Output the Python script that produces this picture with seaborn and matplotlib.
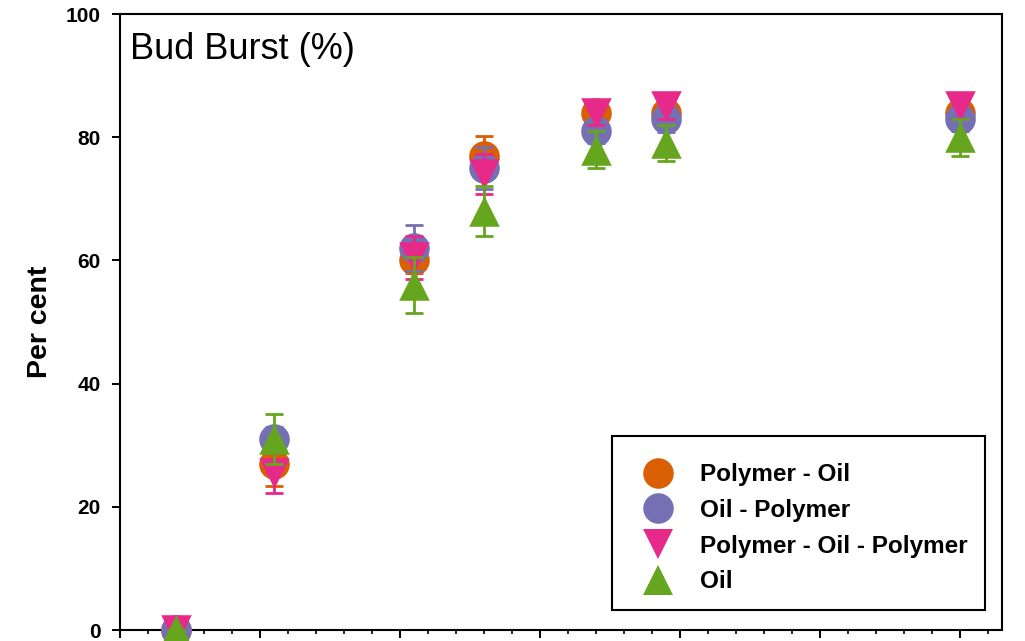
import matplotlib
matplotlib.use("Agg")
import matplotlib.pyplot as plt
import seaborn as sns
import pandas as pd
from matplotlib.ticker import MultipleLocator
from matplotlib.patches import Rectangle

# ---- data ----
days = [4, 11, 21, 26, 34, 39, 60]
series_names = ["Polymer - Oil", "Oil - Polymer", "Polymer - Oil - Polymer", "Oil"]
poly_oil = [0, 27, 60, 77, 84, 84, 84]
poly_oil_err = [0, 3.6, 2.0, 3.2, 1.5, 2.0, 1.5]
oil_poly = [0, 31, 62, 75, 81, 83, 83]
oil_poly_err = [0, 2.0, 3.7, 3.4, 2.0, 2.2, 2.0]
poly_oil_poly = [0, 25.5, 60.5, 74, 84, 85, 85]
poly_oil_poly_err = [0, 3.3, 3.5, 3.3, 2.0, 2.0, 2.1]
oil = [0, 31, 56, 68, 78, 79, 80]
oil_err = [0, 4.1, 4.6, 4.1, 3.0, 2.9, 3.0]

colors = ["#d95f02", "#7570b3", "#e7298a", "#66a61e"]
markers = ["o", "o", "v", "^"]
msizes = [22, 22, 22, 22]

sns.set_theme(style="ticks")
plt.rcParams["font.family"] = ["Liberation Sans", "DejaVu Sans"]
plt.rcParams["text.color"] = "black"
plt.rcParams["axes.labelcolor"] = "black"
plt.rcParams["xtick.color"] = "black"
plt.rcParams["ytick.color"] = "black"

fig = plt.figure(figsize=(10.25, 6.41), dpi=100)
ax = fig.add_axes([120 / 1025, 11 / 641, 882 / 1025, 616 / 641])

vals = [poly_oil, oil_poly, poly_oil_poly, oil]
errs = [poly_oil_err, oil_poly_err, poly_oil_poly_err, oil_err]

frames = []
for name, v, e in zip(series_names, vals, errs):
    frames.append(pd.DataFrame({"day": days, "pct": v, "err": e, "series": name}))
df = pd.concat(frames, ignore_index=True)

handles = []
for i, name in enumerate(series_names):
    sub = df[df["series"] == name]
    ax.errorbar(sub["day"], sub["pct"], yerr=sub["err"], fmt="none",
                ecolor=colors[i], elinewidth=2.0, capsize=6.5, capthick=2.0,
                zorder=3 + 2 * i, clip_on=False)
    sns.scatterplot(data=sub, x="day", y="pct", ax=ax, color=colors[i],
                    marker=markers[i], s=msizes[i] ** 2, linewidth=0,
                    zorder=4 + 2 * i, clip_on=False, legend=False)
    h, = ax.plot([], [], linestyle="none", marker=markers[i], color=colors[i],
                 markersize=msizes[i], markeredgewidth=0, label=name)
    handles.append(h)

ax.set_xlim(0, 63)
ax.set_ylim(0, 100)
ax.xaxis.set_major_locator(MultipleLocator(10))
ax.xaxis.set_minor_locator(MultipleLocator(2))
ax.yaxis.set_major_locator(MultipleLocator(20))
ax.tick_params(axis="x", which="major", direction="out", length=6, width=1.4, labelbottom=False)
ax.tick_params(axis="x", which="minor", direction="out", length=3, width=1.2)
ax.tick_params(axis="y", which="major", direction="out", length=6, width=1.4, pad=8,
               labelsize=15)
for lab in ax.get_yticklabels():
    lab.set_fontweight("bold")
for sp in ax.spines.values():
    sp.set_visible(True)
    sp.set_linewidth(1.5)
    sp.set_color("black")
ax.set_xlabel("")
ax.set_ylabel("Per cent", fontsize=20.5, fontweight="bold", labelpad=9)

ax.text(0.0115, 0.942, "Bud Burst (%)", transform=ax.transAxes, fontsize=26,
        ha="left", va="center")

# legend box
x0, x1 = (612 - 120) / 882, (985 - 120) / 882
y0, y1 = (630 - 610) / 616, (630 - 436) / 616
ax.add_patch(Rectangle((x0, y0), x1 - x0, y1 - y0, transform=ax.transAxes,
                       fill=True, facecolor="white", edgecolor="black",
                       linewidth=1.5, zorder=20))
leg = ax.legend(handles=handles, loc="upper left",
                bbox_to_anchor=(x0 + 3 / 882, y1 - 3 / 616), borderaxespad=0,
                frameon=False, prop={"size": 17.5, "weight": "bold"},
                handlelength=1.5, handletextpad=1.0, borderpad=1.0,
                labelspacing=0.52)
leg.set_zorder(21)

fig.savefig("out.png", dpi=100)
